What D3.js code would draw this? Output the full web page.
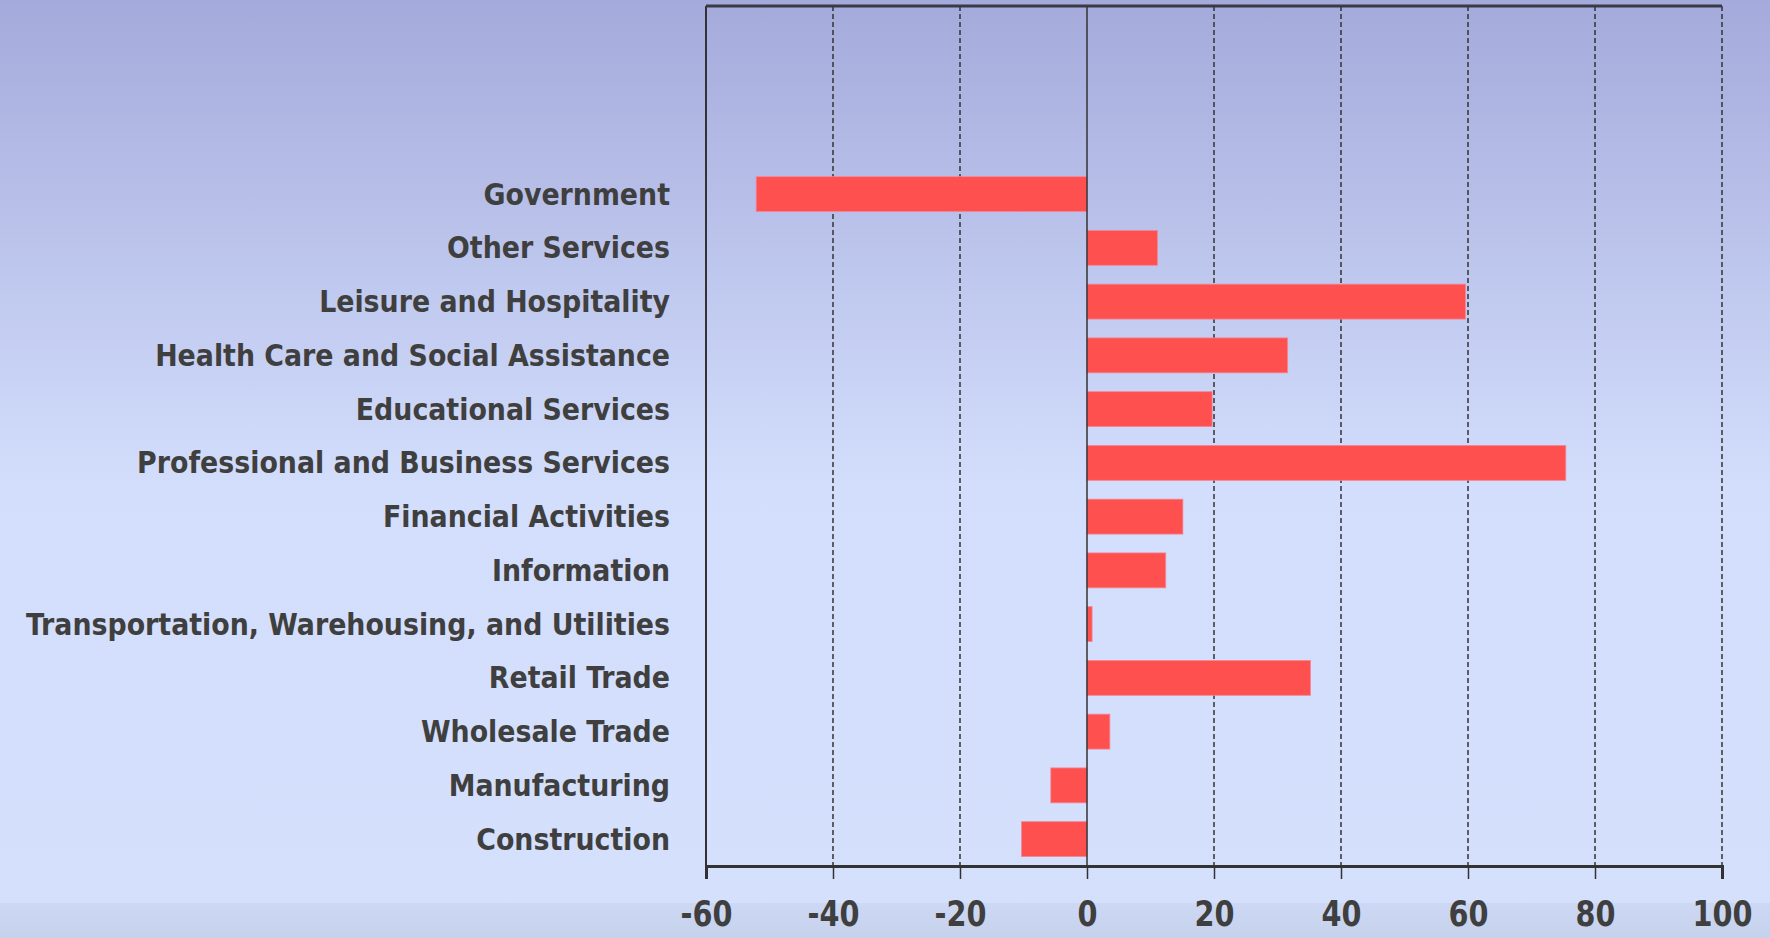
<!DOCTYPE html>
<html>
<head>
<meta charset="utf-8">
<script src="https://cdn.jsdelivr.net/npm/d3@7"></script>
<style>
  html, body { margin: 0; padding: 0; overflow: hidden; }
  svg { display: block; }
</style>
</head>
<body>
<svg class="chart" width="1770" height="938"></svg>
<script>
// categories listed top to bottom as drawn
var categories = [
  "Government",
  "Other Services",
  "Leisure and Hospitality",
  "Health Care and Social Assistance",
  "Educational Services",
  "Professional and Business Services",
  "Financial Activities",
  "Information",
  "Transportation, Warehousing, and Utilities",
  "Retail Trade",
  "Wholesale Trade",
  "Manufacturing",
  "Construction"
];
var values = [-52.1, 11.1, 59.6, 31.6, 19.7, 75.4, 15.1, 12.4, 0.8, 35.2, 3.6, -5.7, -10.3];
var xTicks = [-60, -40, -20, 0, 20, 40, 60, 80, 100];

var fontStack = "'Liberation Sans Narrow', 'DejaVu Sans Condensed', 'Open Sans', sans-serif";

var svg = d3.select(".chart"),
  W = +svg.attr("width"),
  H = +svg.attr("height"),
  margin = { top: 6, right: 48, bottom: 72, left: 706 },
  width = W - margin.left - margin.right,
  height = H - margin.top - margin.bottom;

// background
var defs = svg.append("defs");
var grad = defs.append("linearGradient")
  .attr("id", "bg").attr("x1", 0).attr("y1", 0).attr("x2", 0).attr("y2", 1);
grad.append("stop").attr("offset", "0%").attr("stop-color", "#a4aadb");
grad.append("stop").attr("offset", "52%").attr("stop-color", "#d3defc");
grad.append("stop").attr("offset", "100%").attr("stop-color", "#d5e0fd");
svg.append("rect").attr("width", W).attr("height", H).attr("fill", "url(#bg)");
var grad2 = defs.append("linearGradient")
  .attr("id", "strip").attr("x1", 0).attr("y1", 0).attr("x2", 0).attr("y2", 1);
grad2.append("stop").attr("offset", "0%").attr("stop-color", "#cdd8f4");
grad2.append("stop").attr("offset", "100%").attr("stop-color", "#c6d2ec");
svg.append("rect").attr("y", 903).attr("width", W).attr("height", H - 903).attr("fill", "url(#strip)");

var g = svg.append("g")
  .attr("transform", "translate(" + margin.left + "," + margin.top + ")");

var x = d3.scaleLinear().domain([-60, 100]).range([0, width]);

// three empty slots sit above the first category
var step = height / (categories.length + 3);
var y = d3.scaleBand()
  .domain(categories)
  .range([3 * step, height])
  .paddingInner(0.35)
  .paddingOuter(0.175);

// dashed gridlines
g.append("g")
  .selectAll("line")
  .data(xTicks.filter(function(t) { return t !== 0 && t !== -60; }))
  .enter()
  .append("line")
  .attr("x1", function(d) { return x(d); })
  .attr("x2", function(d) { return x(d); })
  .attr("y1", 0)
  .attr("y2", height)
  .attr("stroke", "#333")
  .attr("stroke-width", 1.5)
  .attr("stroke-dasharray", "5,3");

// bars
g.append("g")
  .selectAll("rect")
  .data(values)
  .enter()
  .append("rect")
  .attr("x", function(d) { return x(Math.min(0, d)); })
  .attr("width", function(d) { return Math.abs(x(d) - x(0)); })
  .attr("y", function(d, i) { return y(categories[i]); })
  .attr("height", y.bandwidth())
  .attr("fill", "#ff5050")
  .attr("stroke", "#f3879a")
  .attr("stroke-width", 0.8);

// zero line
g.append("line")
  .attr("x1", x(0)).attr("x2", x(0))
  .attr("y1", 0).attr("y2", height)
  .attr("stroke", "#333").attr("stroke-width", 1.5);

// frame: left and top
g.append("line")
  .attr("x1", 0).attr("x2", 0).attr("y1", 0).attr("y2", height)
  .attr("stroke", "#333").attr("stroke-width", 2);
g.append("line")
  .attr("x1", 0).attr("x2", width).attr("y1", 0).attr("y2", 0)
  .attr("stroke", "#3a3a44").attr("stroke-width", 3);

// x axis
var xAxis = g.append("g")
  .attr("transform", "translate(0," + height + ")")
  .call(d3.axisBottom(x)
    .tickValues(xTicks)
    .tickFormat(function(d) { return String(d); })
    .tickSize(13)
    .tickPadding(21));
xAxis.select(".domain").attr("stroke", "#333").attr("stroke-width", 3);
xAxis.selectAll(".tick line").attr("stroke", "#333").attr("stroke-width", 1.5);
var tickText = xAxis.selectAll(".tick text")
  .attr("fill", "#3f3f3f")
  .style("font-family", fontStack)
  .style("font-weight", "bold")
  .style("font-size", "36px");

// squeeze tick labels to the narrow look of the reference
var tickProbe = tickText.filter(function(d) { return d === 100; }).node();
var sx = Math.min(1, 60 / tickProbe.getComputedTextLength());
tickText.attr("transform", "scale(" + sx + ",1)");

// category labels
var labels = g.append("g")
  .selectAll("text")
  .data(categories)
  .enter()
  .append("text")
  .attr("x", -36)
  .attr("y", function(d) { return y(d) + y.bandwidth() / 2; })
  .attr("dy", "0.35em")
  .attr("text-anchor", "end")
  .attr("fill", "#3f3f3f")
  .style("font-family", fontStack)
  .style("font-weight", "bold")
  .style("font-size", "32px")
  .text(function(d) { return d; });

// fit the font size to the reference label widths
var probe = labels.filter(function(d) { return d === "Health Care and Social Assistance"; }).node();
var fs = 32 * 515 / probe.getComputedTextLength();
labels.style("font-size", fs + "px");
</script>
</body>
</html>
